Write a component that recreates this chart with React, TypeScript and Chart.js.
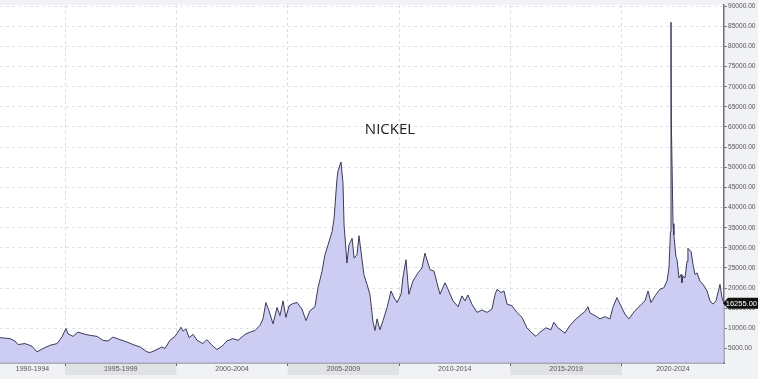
import React, { useEffect, useRef } from "react";
import { Chart, registerables } from "chart.js";

Chart.register(...registerables);

const TITLE = "NICKEL";
const LAST_LABEL = "16255.00";

const dates = [
  1992.08, 1992.53, 1992.75, 1992.89, 1993.2, 1993.52, 1993.74, 1994.01, 1994.33, 1994.64,
  1994.86, 1995.04, 1995.13, 1995.36, 1995.58, 1995.81, 1996.12, 1996.44, 1996.7, 1996.93,
  1997.15, 1997.47, 1997.78, 1998.05, 1998.37, 1998.68, 1998.82, 1999.13, 1999.35, 1999.49,
  1999.71, 1999.94, 2000.21, 2000.3, 2000.43, 2000.57, 2000.75, 2000.93, 2001.19, 2001.37,
  2001.6, 2001.82, 2002.05, 2002.27, 2002.54, 2002.77, 2003.08, 2003.31, 2003.53, 2003.75,
  2003.89, 2004.02, 2004.16, 2004.34, 2004.52, 2004.65, 2004.79, 2004.92, 2005.06, 2005.24,
  2005.42, 2005.64, 2005.82, 2006.0, 2006.22, 2006.36, 2006.54, 2006.67, 2006.81, 2006.99,
  2007.08, 2007.21, 2007.26, 2007.39, 2007.48, 2007.53, 2007.66, 2007.75, 2007.89, 2007.98,
  2008.11, 2008.2, 2008.29, 2008.42, 2008.56, 2008.69, 2008.83, 2008.92, 2009.01, 2009.14,
  2009.28, 2009.46, 2009.64, 2009.77, 2009.91, 2010.09, 2010.17, 2010.31, 2010.44, 2010.62,
  2010.85, 2011.03, 2011.16, 2011.25, 2011.39, 2011.57, 2011.7, 2011.84, 2012.06, 2012.2,
  2012.42, 2012.65, 2012.82, 2012.96, 2013.09, 2013.27, 2013.5, 2013.72, 2013.95, 2014.17,
  2014.31, 2014.4, 2014.58, 2014.71, 2014.85, 2015.07, 2015.29, 2015.52, 2015.74, 2015.97,
  2016.15, 2016.33, 2016.6, 2016.82, 2016.95, 2017.13, 2017.45, 2017.67, 2017.9, 2018.12,
  2018.35, 2018.48, 2018.57, 2018.8, 2019.02, 2019.24, 2019.47, 2019.6, 2019.78, 2019.96,
  2020.14, 2020.32, 2020.59, 2020.82, 2021.04, 2021.18, 2021.31, 2021.49, 2021.71, 2021.89,
  2022.03, 2022.12, 2022.185, 2022.21, 2022.226, 2022.3, 2022.34, 2022.43, 2022.48, 2022.57,
  2022.66, 2022.7, 2022.75, 2022.84, 2022.93, 2022.97, 2023.11, 2023.2, 2023.29, 2023.38,
  2023.51, 2023.65, 2023.83, 2023.96, 2024.09, 2024.23, 2024.32, 2024.41, 2024.5, 2024.59,
];

const prices = [
  7690, 7450, 6860, 5980, 6220, 5560, 4170, 5000, 5800, 6220,
  7840, 9970, 8670, 8010, 9070, 8670, 8260, 8010, 7030, 6860,
  7840, 7200, 6620, 5980, 5390, 4170, 4000, 4750, 5390, 5000,
  7030, 8010, 10290, 9310, 9900, 7690, 8500, 7030, 6220, 7200,
  5800, 4750, 5560, 6860, 7450, 7030, 8500, 9070, 9480, 10700,
  12350, 16420, 14380, 11120, 15190, 13160, 16830, 12740, 15610, 16170,
  16420, 14800, 11930, 14380, 15360, 20090, 24180, 28270, 30720, 33980,
  37240, 47040, 49100, 51300, 46230, 35620, 26220, 30720, 32340, 27440,
  28270, 33000, 29080, 23370, 20920, 18470, 11520, 9480, 12350, 9650,
  11930, 15190, 19280, 17640, 16420, 18470, 22540, 27050, 18470, 21730,
  23770, 24990, 28670, 27050, 24600, 24180, 21320, 18470, 21320, 19700,
  16830, 15360, 18060, 16830, 18300, 16020, 13970, 14550, 13970, 14800,
  18470, 19700, 18870, 19280, 16020, 15610, 13970, 12740, 10140, 8820,
  8010, 9070, 10140, 9650, 11520, 10140, 8820, 10700, 12100, 13160,
  14210, 15360, 13850, 13160, 12350, 12910, 12350, 15190, 17640, 15610,
  13570, 12350, 14380, 15610, 16830, 19280, 16420, 18060, 19700, 20090,
  21730, 24990, 34000, 86000, 61000, 36000, 33170, 27860, 27050, 22540,
  23370, 21320, 22960, 22540, 26630, 29890, 29080, 25820, 23370, 23770,
  21730, 20920, 19280, 16830, 16020, 16830, 18870, 20920, 17640, 16255,
];

const periodStarts = [1990, 1995, 2000, 2005, 2010, 2015, 2020];
const periodLabels = ["1990-1994", "1995-1999", "2000-2004", "2005-2009", "2010-2014", "2015-2019", "2020-2024"];
const yTickValues = [5000, 10000, 15000, 20000, 25000, 30000, 35000, 40000, 45000, 50000, 55000, 60000, 65000, 70000, 75000, 80000, 85000, 90000];

const X_MIN = 1992.08;
const X_MAX = 2024.59;
const Y_MIN = 1400;
const Y_MAX = 90300;

const BG = "#f1f2f5";
const BAND_DARK = "#e1e2e4";

const decorPlugin = {
  id: "decor",
  beforeDraw(chart: any) {
    const { ctx, chartArea, width, height } = chart;
    ctx.save();
    ctx.fillStyle = BG;
    ctx.fillRect(0, 0, width, height);
    ctx.fillStyle = "#ffffff";
    ctx.fillRect(chartArea.left, chartArea.top, chartArea.right - chartArea.left, chartArea.bottom - chartArea.top);
    const xs = chart.scales.x;
    periodStarts.forEach((p, i) => {
      const a = Math.max(xs.getPixelForValue(p), chartArea.left);
      const b = Math.min(xs.getPixelForValue(p + 5), chartArea.right);
      if (i % 2 === 1) {
        ctx.fillStyle = BAND_DARK;
        ctx.fillRect(a, chartArea.bottom, b - a, 12);
      }
    });
    ctx.restore();
  },
  afterDraw(chart: any) {
    const { ctx, chartArea, width } = chart;
    const xs = chart.scales.x;
    const ys = chart.scales.y;
    ctx.save();
    ctx.font = "7px 'Liberation Sans', Arial, sans-serif";
    ctx.fillStyle = "#555";
    ctx.textAlign = "center";
    ctx.textBaseline = "middle";
    periodStarts.forEach((p, i) => {
      const a = Math.max(xs.getPixelForValue(p), chartArea.left);
      const b = Math.min(xs.getPixelForValue(p + 5), chartArea.right);
      ctx.fillText(periodLabels[i], (a + b) / 2, chartArea.bottom + 6.5);
    });
    ctx.font = "15px 'Open Sans', 'Noto Sans', sans-serif";
    ctx.fillStyle = "#222";
    ctx.fillText(TITLE, 390, 130);
    const last = prices[prices.length - 1];
    const yy = ys.getPixelForValue(last);
    const x0 = chartArea.right + 1;
    ctx.fillStyle = "#111";
    ctx.beginPath();
    ctx.moveTo(chartArea.right - 1, yy);
    ctx.lineTo(x0 + 3, yy - 5.5);
    ctx.lineTo(width, yy - 5.5);
    ctx.lineTo(width, yy + 5.5);
    ctx.lineTo(x0 + 3, yy + 5.5);
    ctx.closePath();
    ctx.fill();
    ctx.fillStyle = "#fff";
    ctx.font = "7.5px 'Liberation Sans', Arial, sans-serif";
    ctx.textAlign = "right";
    ctx.fillText(LAST_LABEL, width - 1, yy + 0.5);
    ctx.restore();
  },
};

export default function App() {
  const ref = useRef<HTMLCanvasElement | null>(null);
  useEffect(() => {
    if (!ref.current) return;
    const chart = new Chart(ref.current, {
      type: "line",
      data: {
        datasets: [
          {
            data: dates.map((d, i) => ({ x: d, y: prices[i] })),
            borderColor: "#3b3b58",
            borderWidth: 1,
            backgroundColor: "rgba(196,196,242,0.85)",
            fill: "start",
            pointRadius: 0,
            tension: 0,
          },
        ],
      },
      options: {
        animation: false,
        responsive: false,
        layout: { padding: 0 },
        plugins: { legend: { display: false }, tooltip: { enabled: false }, title: { display: false } },
        scales: {
          x: {
            type: "linear",
            min: X_MIN,
            max: X_MAX,
            afterBuildTicks: (s: any) => {
              s.ticks = periodStarts.filter((v) => v > X_MIN && v < X_MAX).map((v) => ({ value: v }));
            },
            afterFit: (s: any) => {
              s.height = 16;
            },
            ticks: { display: false },
            grid: { color: "#dcdce0", tickColor: "#666", tickLength: 3, drawTicks: true },
            border: { display: true, color: "#6e6e78", width: 1.5, dash: [3, 3] },
          },
          y: {
            position: "right",
            min: Y_MIN,
            max: Y_MAX,
            afterBuildTicks: (s: any) => {
              s.ticks = yTickValues.map((v) => ({ value: v }));
            },
            afterFit: (s: any) => {
              s.width = 34;
            },
            ticks: {
              callback: (v: any) => Number(v).toFixed(2),
              font: { size: 6.6, family: "'Liberation Sans', Arial, sans-serif" },
              color: "#555",
              padding: 1,
            },
            grid: { color: "#e2e2e6", tickColor: "#777", tickLength: 3, drawTicks: true },
            border: { display: true, color: "#6e6e78", width: 1.5, dash: [3, 3] },
          },
        },
      },
      plugins: [decorPlugin],
    });
    return () => chart.destroy();
  }, []);
  return (
    <div style={{ position: "absolute", left: 0, top: 0, width: 758, height: 379 }}>
      <canvas ref={ref} width={758} height={379} style={{ display: "block" }} />
    </div>
  );
}
